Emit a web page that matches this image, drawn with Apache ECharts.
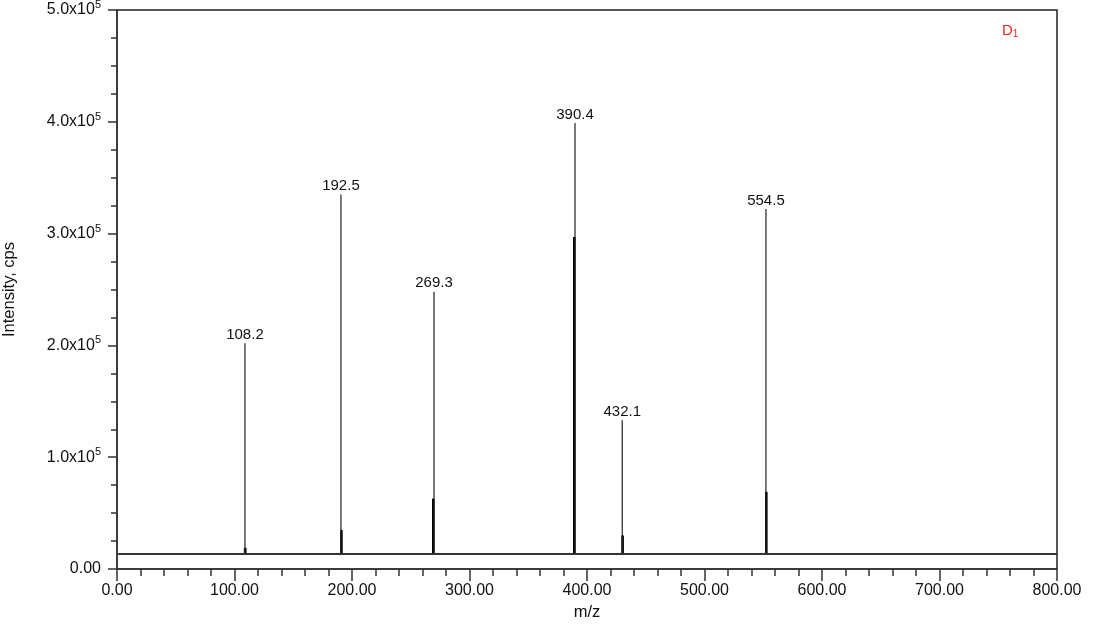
<!DOCTYPE html>
<html>
<head>
<meta charset="utf-8">
<title>D1 spectrum</title>
<script src="https://cdn.jsdelivr.net/npm/echarts@6/dist/echarts.min.js"></script>
<style>
  html, body { margin: 0; padding: 0; background: #fff; }
  #chart { width: 1105px; height: 627px; }
</style>
</head>
<body>
<div id="chart"></div>
<script>
// peak positions (m/z), intensities (cps) and printed labels
const peakMz = [108.9, 190.6, 269.8, 389.8, 430.0, 552.3]
const peakIntensity = [202000, 335000, 248000, 399000, 133000, 322000]
const peakLabels = ['108.2', '192.5', '269.3', '390.4', '432.1', '554.5']

// thicker shoulder part near the foot of each peak
const shoulderMz = [109.1, 191.0, 269.2, 389.2, 430.3, 552.6]
const shoulderIntensity = [19000, 35000, 63000, 297000, 30000, 69000]

// noise baseline level
const baselineLevel = 13400
const baselineRange = [1, 800]

const chart = echarts.init(document.getElementById('chart'))

const axisColor = '#333'
const labelFont = 'Liberation Sans, Arial, sans-serif'

function stickSeries(name, xs, ys, width, color, labels) {
  return {
    name: name,
    type: 'custom',
    silent: true,
    data: xs.map((x, i) => [x, ys[i], i]),
    renderItem: function (params, api) {
      const x = api.value(0)
      const top = api.coord([x, api.value(1)])
      const foot = api.coord([x, baselineLevel])
      const children = [{
        type: 'line',
        shape: { x1: top[0], y1: top[1], x2: foot[0], y2: foot[1] },
        style: { stroke: color, lineWidth: width }
      }]
      if (labels) {
        children.push({
          type: 'text',
          style: {
            text: labels[api.value(2)],
            x: top[0],
            y: top[1] - 1,
            align: 'center',
            verticalAlign: 'bottom',
            fontSize: 15,
            fontFamily: labelFont,
            fill: '#111'
          }
        })
      }
      return { type: 'group', children: children }
    }
  }
}

const option = {
  animation: false,
  backgroundColor: '#fff',
  grid: {
    left: 117,
    right: 48,
    top: 10,
    bottom: 58,
    outerBoundsMode: 'none',
    containLabel: false,
    show: true,
    borderColor: '#222',
    borderWidth: 1.5
  },
  graphic: [{
    type: 'text',
    left: 1002,
    top: 23,
    style: {
      text: '{d|D}{s|1}',
      rich: {
        d: { fontSize: 15, fontFamily: labelFont, fill: '#e8281e' },
        s: { fontSize: 10, fontFamily: labelFont, fill: '#e8281e', padding: [7, 0, 0, 0] }
      }
    }
  }],
  xAxis: {
    type: 'value',
    min: 0,
    max: 800,
    interval: 100,
    name: 'm/z',
    nameLocation: 'middle',
    nameGap: 35,
    nameTextStyle: { fontSize: 16.5, fontFamily: labelFont, color: '#111' },
    axisLine: { show: true, lineStyle: { color: axisColor, width: 1.5 } },
    axisTick: { show: true, inside: false, length: 12, lineStyle: { color: axisColor, width: 1.5 } },
    minorTick: { show: true, splitNumber: 5, length: 7, lineStyle: { color: axisColor, width: 1.5 } },
    splitLine: { show: false },
    axisLabel: {
      margin: 14,
      fontSize: 16,
      fontFamily: labelFont,
      color: '#111',
      formatter: v => v.toFixed(2)
    }
  },
  yAxis: {
    type: 'value',
    min: 0,
    max: 500000,
    interval: 100000,
    name: 'Intensity, cps',
    nameLocation: 'middle',
    nameGap: 99,
    nameTextStyle: { fontSize: 16.5, fontFamily: labelFont, color: '#111' },
    axisLine: { show: true, lineStyle: { color: axisColor, width: 1.5 } },
    axisTick: { show: true, inside: false, length: 9, lineStyle: { color: axisColor, width: 1.5 } },
    minorTick: { show: true, splitNumber: 4, length: 6, lineStyle: { color: axisColor, width: 1.5 } },
    splitLine: { show: false },
    axisLabel: {
      margin: 16,
      fontSize: 16,
      fontFamily: labelFont,
      color: '#111',
      formatter: function (v) {
        if (v === 0) return '{n|0.00}'
        return '{n|' + (v / 100000).toFixed(1) + 'x10}{s|5}'
      },
      rich: {
        n: { fontSize: 16, fontFamily: labelFont, color: '#111' },
        s: { fontSize: 11, fontFamily: labelFont, color: '#111', padding: [0, 0, 10, 0] }
      }
    }
  },
  series: [
    {
      name: 'baseline',
      type: 'line',
      silent: true,
      symbol: 'none',
      data: baselineRange.map(x => [x, baselineLevel]),
      lineStyle: { color: '#333', width: 2 }
    },
    stickSeries('shoulder', shoulderMz, shoulderIntensity, 2.6, '#000'),
    stickSeries('peaks', peakMz, peakIntensity, 1.2, '#222', peakLabels)
  ]
}

chart.setOption(option)
</script>
</body>
</html>
